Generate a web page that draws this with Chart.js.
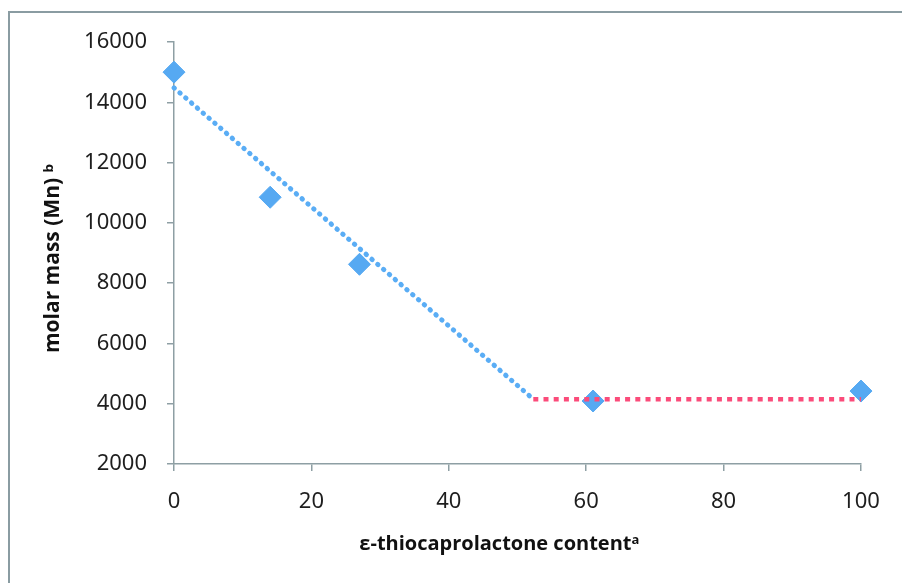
<!DOCTYPE html>
<html>
<head>
<meta charset="utf-8">
<script src="https://cdn.jsdelivr.net/npm/chart.js@4"></script>
<style>
  html, body { margin: 0; padding: 0; background: #fff; overflow: hidden; }
  #wrap { position: relative; width: 902px; height: 583px; }
  #frame { position: absolute; left: 8px; top: 11px; width: 1000px; height: 1000px;
           border-left: 2px solid #8a9ca2; border-top: 2px solid #8a9ca2; }
  #chart { position: absolute; left: 0; top: 0; }
</style>
</head>
<body>
<div id="wrap">
  <div id="frame"></div>
  <canvas id="chart" width="902" height="583"></canvas>
</div>
<script>
// measured points
const contentX = [0, 14, 27, 61, 100];
const molarMass = [15000, 10850, 8625, 4090, 4420];

// dotted guide lines
const trendX = [0, 52.3];
const trendY = [14480, 4150];
const plateauX = [52.3, 100];
const plateauY = [4150, 4150];

// axes
const xTicks = [0, 20, 40, 60, 80, 100];
const yTicks = [2000, 4000, 6000, 8000, 10000, 12000, 14000, 16000];

const toXY = (xs, ys) => xs.map((x, i) => ({ x: x, y: ys[i] }));

const axisColor = "#8e9fa4";
const tickFont = { family: "'Noto Sans', 'Open Sans', sans-serif", size: 22 };
const titleFont = { family: "'Open Sans', 'Noto Sans', sans-serif", size: 20, weight: "bold" };

new Chart(document.getElementById("chart"), {
  type: "scatter",
  data: {
    datasets: [
      {
        label: "trend",
        data: toXY(trendX, trendY),
        showLine: true,
        pointRadius: 0,
        borderColor: "#5aadf5",
        borderWidth: 5,
        borderCapStyle: "round",
        borderDash: [0.5, 7.2],
        clip: false,
        order: 0
      },
      {
        label: "plateau",
        data: toXY(plateauX, plateauY),
        showLine: true,
        pointRadius: 0,
        borderColor: "#fb4b7a",
        borderWidth: 4.5,
        borderCapStyle: "butt",
        borderDash: [5, 5.2],
        clip: false,
        order: 0
      },
      {
        label: "Mn",
        data: toXY(contentX, molarMass),
        pointStyle: "rectRot",
        pointRadius: 11,
        pointBackgroundColor: "#56a9f2",
        pointBorderColor: "#56a9f2",
        pointBorderWidth: 1,
        showLine: false,
        clip: false,
        order: 1
      }
    ]
  },
  options: {
    responsive: false,
    animation: false,
    layout: { padding: { left: 10, top: 42, right: 41, bottom: 0 } },
    plugins: { legend: { display: false }, tooltip: { enabled: false } },
    scales: {
      x: {
        type: "linear",
        min: 0,
        max: 100,
        afterBuildTicks: s => { s.ticks = xTicks.map(v => ({ value: v })); },
        afterFit: s => { s.height = 583 - 464; },
        grid: { drawOnChartArea: false, drawTicks: true, tickLength: 7, color: axisColor, lineWidth: 1.5 },
        border: { display: true, color: axisColor, width: 1.5 },
        ticks: { color: "#1e1e1e", font: tickFont, padding: 18, callback: v => String(v) },
        title: {
          display: true,
          // trailing spaces shift the title left, as in the original
          text: "ε-thiocaprolactone contentᵃ\u00a0\u00a0\u00a0\u00a0\u00a0\u00a0\u00a0",
          color: "#111",
          font: titleFont,
          padding: { top: 0, bottom: 27 }
        }
      },
      y: {
        min: 2000,
        max: 16000,
        afterBuildTicks: s => { s.ticks = yTicks.map(v => ({ value: v })); },
        afterFit: s => { s.width = 174 - 10; },
        grid: { drawOnChartArea: false, drawTicks: true, tickLength: 7, color: axisColor, lineWidth: 1.5 },
        border: { display: true, color: axisColor, width: 1.5 },
        ticks: { color: "#1e1e1e", font: tickFont, padding: 20, callback: v => String(v) },
        title: {
          display: true,
          text: "molar mass (Mn) ᵇ\u00a0\u00a0",
          color: "#111",
          font: { family: "'Open Sans', 'Noto Sans', sans-serif", size: 21, weight: "bold" },
          padding: { top: 30, bottom: 0 }
        }
      }
    }
  }
});
</script>
</body>
</html>
